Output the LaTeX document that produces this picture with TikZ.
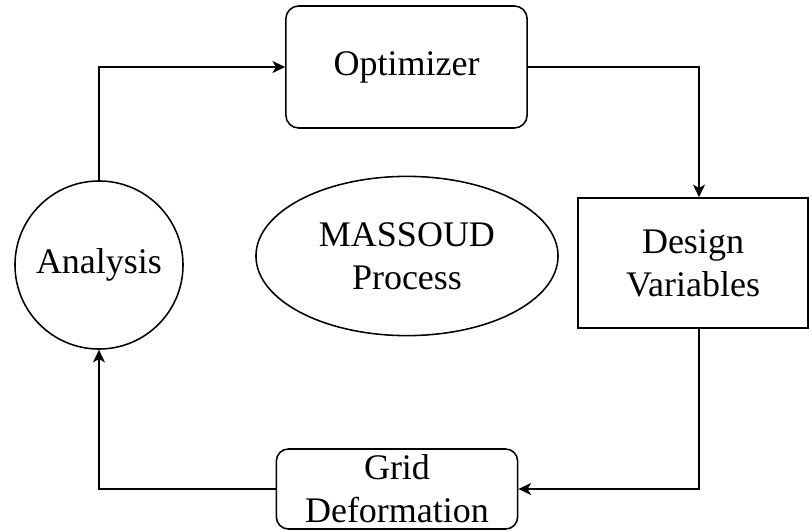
\documentclass[tikz,border=0pt]{standalone}
\usepackage{fontspec}
\setmainfont{Liberation Serif}
\usepackage{tikz}
\usetikzlibrary{shapes.geometric,arrows.meta,positioning,calc}
\tikzset{
  rbox/.style={rectangle,draw,rounded corners=0.32cm,minimum width=6.03cm,align=center,line width=1.1pt,inner sep=0pt},
  sqbox/.style={rectangle,draw,minimum width=5.75cm,minimum height=3.25cm,align=center,line width=1.1pt,inner sep=0pt},
  circ/.style={circle,draw,minimum size=4.2cm,align=center,line width=1.1pt,inner sep=0pt},
  ell/.style={ellipse,draw,minimum width=7.55cm,minimum height=3.98cm,align=center,line width=1.1pt,inner sep=0pt},
  arr/.style={->,>={Stealth[length=9pt,width=8.5pt,inset=2.5pt]},line width=1.2pt},
  every node/.style={font=\fontsize{25.6pt}{30.6pt}\selectfont},
}

\begin{document}
\begin{tikzpicture}[x=0.025cm,y=-0.025cm]
  \useasboundingbox (0,0) rectangle (809,531);
  \node[rbox,minimum height=3.05cm] (opt) at (406.5,67) {Optimizer};
  \node[sqbox] (dv) at (693,263) {Design\\Variables};
  \node[rbox,minimum height=2cm,rounded corners=0.3cm] (grid) at (397,489) {Grid\\Deformation};
  \node[circ] (ana) at (99,265) {Analysis};
  \node[ell] (mp) at (407,256) {MASSOUD\\Process};
  \draw[arr] (ana.north) |- (opt.west);
  \draw[arr] (opt.east) -| ([xshift=0.15cm]dv.north);
  \draw[arr] ([xshift=0.15cm]dv.south) |- (grid.east);
  \draw[arr] (grid.west) -| (ana.south);
\end{tikzpicture}
\end{document}
